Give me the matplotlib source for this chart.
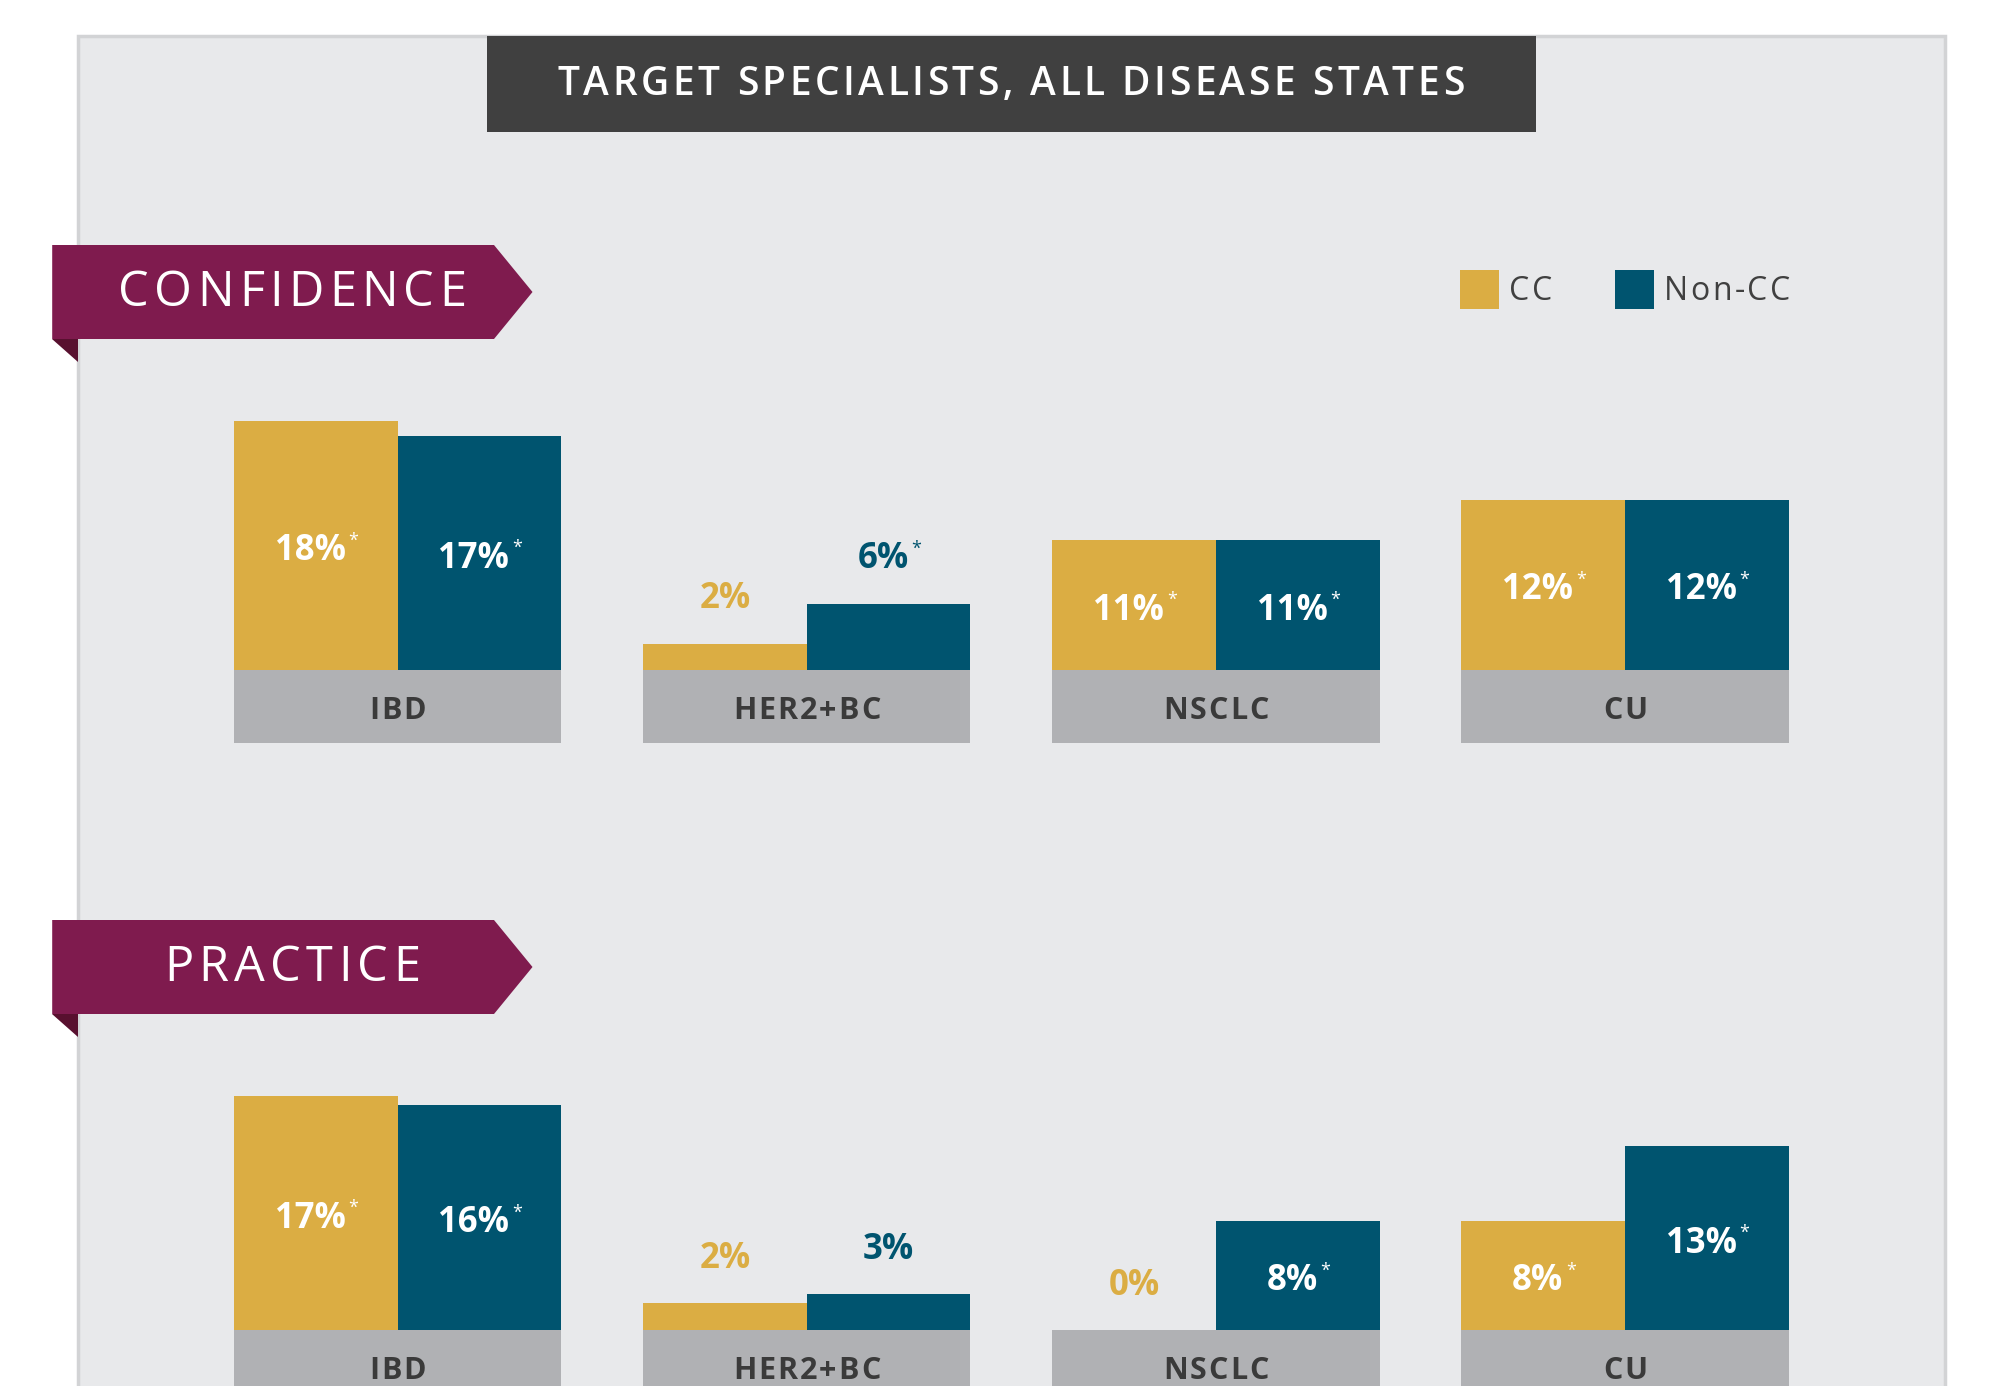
import matplotlib.pyplot as plt
import matplotlib.patches as mpatches
from matplotlib.font_manager import FontProperties
import numpy as np

plt.rcParams['font.family'] = ['Open Sans', 'DejaVu Sans']

# data
diseases = ['IBD', 'HER2+BC', 'NSCLC', 'CU']
series = ['CC', 'Non-CC']

# percentages as labelled
conf_cc = [18, 2, 11, 12]
conf_noncc = [17, 6, 11, 12]
prac_cc = [17, 2, 0, 8]
prac_noncc = [16, 3, 8, 13]

# bar lengths as drawn in the picture (in % units)
conf_cc_h = [18.0, 1.9, 9.4, 12.3]
conf_noncc_h = [16.9, 4.8, 9.4, 12.3]
prac_cc_h = [16.9, 1.95, 0.0, 7.9]
prac_noncc_h = [16.3, 2.6, 7.9, 13.3]

# significance marks
conf_cc_star = [True, False, True, True]
conf_noncc_star = [True, True, True, True]
prac_cc_star = [True, False, False, True]
prac_noncc_star = [True, False, True, True]

gold = '#DBAD43'
teal = '#00546F'
maroon = '#7F1B4E'
bg_gray = '#E8E9EB'
box_gray = '#B0B1B4'
dark = '#404040'

W, H = 1997, 1386
fig = plt.figure(figsize=(W / 100, H / 100), dpi=100)
fig.patch.set_facecolor('white')
renderer = fig.canvas.get_renderer()


def text_w(s, size, weight):
    prop = FontProperties(family=['Open Sans', 'DejaVu Sans'], size=size, weight=weight)
    w, _, _ = renderer.get_text_width_height_descent(s, prop, ismath=False)
    return w


def tracked(ax, x, y, s, track, size, weight='normal', ha='center', **kw):
    # letter-spaced text, x/y given in pixel units
    base = text_w('HH', size, weight)
    adv = [text_w('H' + ch + 'H', size, weight) - base for ch in s]
    total = sum(adv) + track * (len(s) - 1)
    x0 = x - total / 2 if ha == 'center' else x
    for ch, a in zip(s, adv):
        if ch != ' ':
            ax.text(x0 + a / 2, y, ch, ha='center', va='center', fontsize=size,
                    fontweight=weight, **kw)
        x0 += a + track


def pixel_axes():
    a = fig.add_axes([0, 0, 1, 1])
    a.set_xlim(0, W)
    a.set_ylim(H, 0)
    a.axis('off')
    a.patch.set_visible(False)
    return a


# background layer in pixel coordinates
bg = pixel_axes()

bg.add_patch(mpatches.Rectangle((77.7, 36), 1945 - 77.7, H, facecolor=bg_gray,
                                edgecolor='#D2D3D5', lw=2.5))
bg.add_patch(mpatches.Rectangle((486.6, 36), 1536 - 486.6, 131.7 - 36, facecolor=dark, lw=0))
tracked(bg, 1011, 85, 'TARGET SPECIALISTS, ALL DISEASE STATES', 3.5, 28, 'semibold',
        color='white')


def ribbon(y0, text):
    y1 = y0 + 94
    pts = [(52.2, y0), (494, y0), (532.5, (y0 + y1) / 2), (494, y1), (52.2, y1)]
    bg.add_patch(mpatches.Polygon(pts, closed=True, facecolor=maroon, lw=0))
    bg.add_patch(mpatches.Polygon([(52.2, y1), (77.7, y1), (77.7, y1 + 23)], closed=True,
                                  facecolor='#58102F', lw=0))
    tracked(bg, 292, (y0 + y1) / 2 + 1, text, 5.3, 35, 'normal', color='white')


ribbon(245, 'CONFIDENCE')
ribbon(920, 'PRACTICE')

# legend
for sx, tx, col, name in [(1460, 1509, gold, series[0]), (1615, 1664, teal, series[1])]:
    bg.add_patch(mpatches.Rectangle((sx, 270), 39, 39, facecolor=col, lw=0))
    tracked(bg, tx, 291, name, 2.5, 23, 'normal', ha='left', color=dark)

# bar panels
px_per_pct = 13.83
box_h = 5.26
ylim = (-box_h, 20)
ax_h = (ylim[1] - ylim[0]) * px_per_pct / H
left_px, right_px = 192.9, 1829.7
group_px = (right_px - left_px) / len(diseases)
name_slots = []


def panel(bottom_px, cc_h, nc_h, cc_lab, nc_lab, cc_star, nc_star):
    ax = fig.add_axes([left_px / W, 1 - bottom_px / H, (right_px - left_px) / W, ax_h])
    ax.set_xlim(-0.5, len(diseases) - 0.5)
    ax.set_ylim(*ylim)
    ax.axis('off')
    ax.patch.set_visible(False)
    x = np.arange(len(diseases))
    ax.bar(x, box_h, bottom=-box_h, width=0.8, color=box_gray, lw=0)
    ax.bar(x - 0.2, cc_h, 0.4, color=gold, lw=0)
    ax.bar(x + 0.2, nc_h, 0.4, color=teal, lw=0)
    name_slots.append(bottom_px - box_h * px_per_pct / 2 + 5)
    for xs, hs, labs, stars, col in [(x - 0.2, cc_h, cc_lab, cc_star, gold),
                                     (x + 0.2, nc_h, nc_lab, nc_star, teal)]:
        for xi, h, lab, st in zip(xs, hs, labs, stars):
            dx = -4 if st else 0
            if h > 6:
                t = ax.annotate(f'{lab}%', xy=(xi, h / 2), xytext=(dx, -4),
                                textcoords='offset points', ha='center', va='center',
                                fontsize=25, fontweight='bold', color='white')
                c = 'white'
            else:
                t = ax.annotate(f'{lab}%', xy=(xi, h), xytext=(dx, 32),
                                textcoords='offset points', ha='center', va='center',
                                fontsize=25, fontweight='bold', color=col)
                c = col
            if st:
                ax.annotate('*', xy=(1, 1), xycoords=t, xytext=(2, 1),
                            textcoords='offset points', ha='left', va='top',
                            fontsize=13, color=c)


panel(742.7, conf_cc_h, conf_noncc_h, conf_cc, conf_noncc, conf_cc_star, conf_noncc_star)
panel(1402.7, prac_cc_h, prac_noncc_h, prac_cc, prac_noncc, prac_cc_star, prac_noncc_star)

# category names on top of the grey boxes
top = pixel_axes()
for y in name_slots:
    for i, name in enumerate(diseases):
        tracked(top, left_px + (i + 0.5) * group_px, y, name, 2.0, 22, 'bold',
                color='#3A3A3A')

fig.savefig('out.png', dpi=100)
